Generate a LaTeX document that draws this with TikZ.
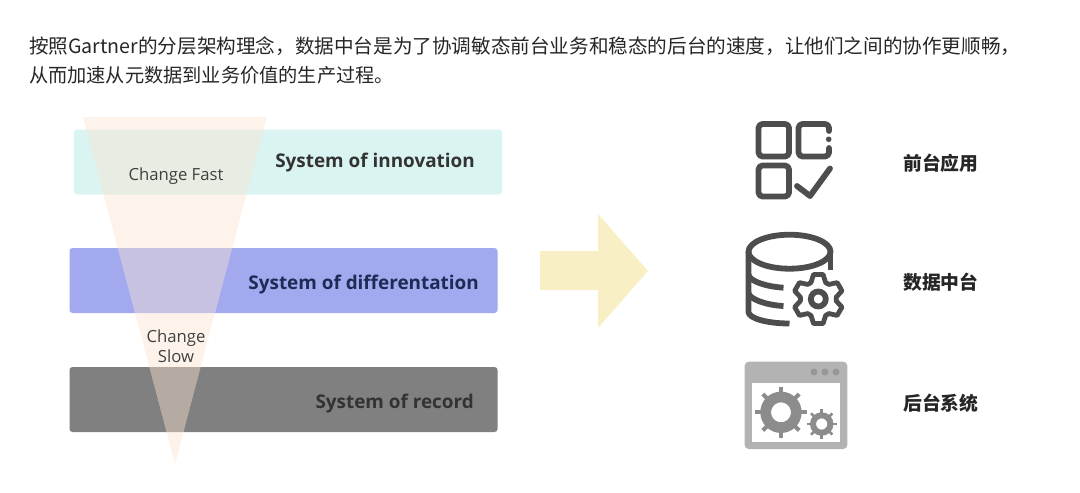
\documentclass[tikz,border=0pt]{standalone}
\usepackage{fontspec}
\setmainfont{Open Sans}
\newfontfamily\cjk{Noto Sans CJK SC}
\definecolor{innoFill}{HTML}{DAF4F1}
\definecolor{diffFill}{HTML}{A2A9EF}
\definecolor{recFill}{HTML}{808080}
\definecolor{funnelFill}{HTML}{FBE4D1}
\definecolor{arrowFill}{HTML}{F8F0C4}
\definecolor{iconDark}{HTML}{4D4D4D}
\definecolor{iconGrey}{HTML}{B3B3B3}
\definecolor{gearGrey}{HTML}{8C8C8C}
\definecolor{diffText}{HTML}{1F2A55}
\tikzstyle{layer} = [rectangle, rounded corners=3pt, inner sep=0pt, minimum width=428pt, minimum height=65pt]
\tikzstyle{layerlabel} = [anchor=east, inner sep=0pt, font=\fontsize{18.9}{22}\selectfont\bfseries]
\tikzstyle{speedlabel} = [align=center, inner sep=0pt, text=black!75, font=\fontsize{16.7}{20}\selectfont]
\tikzstyle{intro} = [anchor=west, inner sep=0pt, text=black!85, font=\cjk\fontsize{19.6}{22}\selectfont]
\tikzstyle{applabel} = [anchor=west, inner sep=0pt, text=black!85, font=\cjk\fontsize{18.8}{22}\selectfont\bfseries]
\tikzstyle{iconline} = [draw=iconDark, line width=5.8pt, line join=round, line cap=round]
\begin{document}
\begin{tikzpicture}[x=1pt,y=-1pt]
  \useasboundingbox (0,0) rectangle (1080,493);

  \node[intro] (intro_eins) at (29,46) {按照Gartner的分层架构理念，数据中台是为了协调敏态前台业务和稳态的后台的速度，让他们之间的协作更顺畅，};
  \node[intro, font=\cjk\fontsize{19.2}{22}\selectfont] (intro_zwei) at (29,75.5) {从而加速从元数据到业务价值的生产过程。};

  \node[layer, fill=innoFill] (inno) at (288,162) {};
  \node[layer, fill=diffFill] (diff) at (283.5,280.5) {};
  \node[layer, fill=recFill] (rec) at (283.5,399.5) {};

  \fill[funnelFill, opacity=.43] (83,117) -- (267,117) -- (175,464) -- cycle;

  \node[layerlabel, text=black!80] (L_inno) at (475,163) {System of innovation};
  \node[layerlabel, text=diffText] (L_diff) at (479,285) {System of differentation};
  \node[layerlabel, text=black!80] (L_rec) at (474,404) {System of record};
  \node[speedlabel] (fast) at (176,176) {Change Fast};
  \node[speedlabel] (slow) at (176,346.5) {Change\\Slow};

  \fill[arrowFill] (540,251) -- (598,251) -- (598,214) -- (648,271) -- (598,328) -- (598,290) -- (540,290) -- cycle;

  \draw[iconline, rounded corners=4pt] (758.5,124) rectangle (789,156.5);
  \draw[iconline, rounded corners=4pt] (829,131) -- (829,124) -- (798.5,124) -- (798.5,156.5) -- (829,156.5) -- (829,148);
  \fill[iconDark] (828.7,139.3) circle (2.8);
  \draw[iconline, rounded corners=4pt] (758.5,165.5) rectangle (789,196.5);
  \draw[iconline] (797,186) -- (810,196) -- (830,168.5);

  \draw[iconline, line cap=butt] (789.5,251.7) ellipse (41 and 17);
  \draw[iconline, line cap=butt] (748.5,251.7) -- (748.5,312) .. controls (748.5,318) and (766,323.5) .. (789.5,323.5);
  \draw[iconline, line cap=butt] (830.5,251.7) -- (830.5,270);
  \draw[iconline, line cap=butt] (748.5,275) .. controls (750,281) and (765,286.5) .. (783.5,287.7);
  \draw[iconline, line cap=butt] (748.5,293.3) .. controls (750,299) and (765,305) .. (783.5,306);
  \begin{scope}[shift={(818.3,299)}]
    \draw[iconline] (0,0) circle (7.5);
    \draw[iconline, line width=4.8pt] (66:18)
      \foreach \a in {90,150,...,390} {
        -- (\a-24:18) -- (\a-11:25) -- (\a+11:25) -- (\a+24:18)
      } -- cycle;
  \end{scope}

  \fill[iconGrey, rounded corners=4pt] (744.7,361.7) rectangle (847.3,449);
  \fill[white] (752,383.3) rectangle (840,442);
  \foreach \x in {814,825,836}
    \fill[gearGrey!90] (\x,372) circle (3.5);
  \draw[gearGrey, line width=10.7pt] (781,412.3) circle (15.3);
  \foreach \a in {0,45,...,315}
    \draw[gearGrey, line width=4pt] (781,412.3) ++(\a:19) -- ++(\a:6.7);
  \draw[gearGrey, line width=6pt] (821.7,424) circle (8.7);
  \foreach \a in {0,45,...,315}
    \draw[gearGrey, line width=2.6pt] (821.7,424) ++(\a:11) -- ++(\a:4);

  \node[applabel] (front) at (903,163) {前台应用};
  \node[applabel] (middle) at (903,282) {数据中台};
  \node[applabel] (back) at (903,403) {后台系统};
\end{tikzpicture}
\end{document}
